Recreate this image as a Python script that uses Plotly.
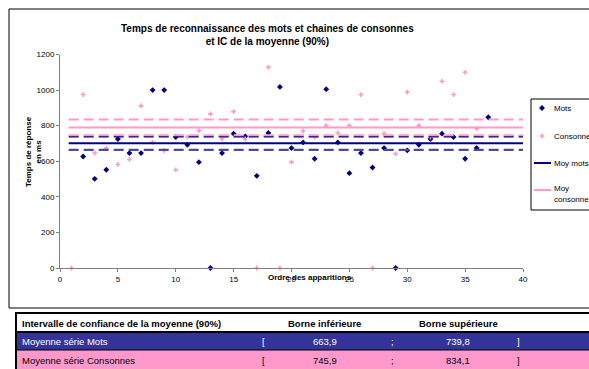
import plotly.graph_objects as go

W, H = 589, 369

# --- data -------------------------------------------------------------------
ordre = list(range(1, 38))
mots = [None, 627, 501, 552, 725, 646, 646, 1000, 1000, 736, 693, 595, 0, 646,
        755, 740, 518, 759, 1018, 674, 706, 614, 1005, 706, 533, 646, 565, 674,
        0, 661, 693, 725, 755, 736, 614, 674, 847]
consonnes = [0, 975, 646, 674, 582, 610, 911, 706, 659, 552, 736, 772, 866, 725,
             879, 725, 0, 1128, 0, 595, 770, 736, 800, 759, 800, 975, 0, 755,
             642, 988, 800, 736, 1050, 975, 1100, 783, None]

ic_mots = [663.9, 739.8]        # borne inférieure, borne supérieure
ic_consonnes = [745.9, 834.1]

x_ticks = [0, 5, 10, 15, 20, 25, 30, 35, 40]
y_ticks = [0, 200, 400, 600, 800, 1000, 1200]

NAVY = "#000080"
PINK = "#FF99CC"
FONT = "Liberation Sans"


def px(x):
    return x / W


def py(y):
    return 1 - y / H


def fmt(v):
    return f"{v:.1f}".replace(".", ",")


moy_mots = sum(ic_mots) / 2
moy_consonnes = sum(ic_consonnes) / 2
line_x = [0.75, 40]

fig = go.Figure()

# scatter series
fig.add_trace(go.Scatter(x=ordre, y=mots, mode="markers", name="Mots",
                         marker=dict(symbol="diamond", size=4.5, color=NAVY),
                         cliponaxis=False))
fig.add_trace(go.Scatter(x=ordre, y=consonnes, mode="markers", name="Consonnes",
                         marker=dict(symbol="cross", size=4, color=PINK),
                         cliponaxis=False))

# confidence bounds and means
fig.add_trace(go.Scatter(x=line_x, y=[ic_mots[0]] * 2, mode="lines",
                         line=dict(color="#4B4B9A", width=2.2, dash="10px,5px")))
fig.add_trace(go.Scatter(x=line_x, y=[ic_mots[1]] * 2, mode="lines",
                         line=dict(color=NAVY, width=2, dash="10px,5px")))
fig.add_trace(go.Scatter(x=line_x, y=[ic_consonnes[0]] * 2, mode="lines",
                         line=dict(color=PINK, width=2, dash="10px,5px")))
fig.add_trace(go.Scatter(x=line_x, y=[ic_consonnes[1]] * 2, mode="lines",
                         line=dict(color=PINK, width=2, dash="10px,5px")))
fig.add_trace(go.Scatter(x=line_x, y=[moy_mots] * 2, mode="lines",
                         line=dict(color=NAVY, width=2)))
fig.add_trace(go.Scatter(x=line_x, y=[moy_consonnes] * 2, mode="lines",
                         line=dict(color=PINK, width=2)))

# legend symbols, drawn on a page-sized pixel axis
fig.add_trace(go.Scatter(x=[542], y=[108], mode="markers", xaxis="x2", yaxis="y2",
                         marker=dict(symbol="diamond", size=4.5, color=NAVY),
                         cliponaxis=False))
fig.add_trace(go.Scatter(x=[542], y=[136], mode="markers", xaxis="x2", yaxis="y2",
                         marker=dict(symbol="cross", size=4, color=PINK),
                         cliponaxis=False))
fig.add_trace(go.Scatter(x=[534, 551], y=[163, 163], mode="lines", xaxis="x2", yaxis="y2",
                         line=dict(color=NAVY, width=2), cliponaxis=False))
fig.add_trace(go.Scatter(x=[534, 551], y=[190, 190], mode="lines", xaxis="x2", yaxis="y2",
                         line=dict(color=PINK, width=2), cliponaxis=False))

shapes = []
annotations = []

# chart frame
shapes.append(dict(type="rect", xref="paper", yref="paper",
                   x0=px(9), x1=px(640), y0=py(9), y1=py(308),
                   line=dict(color="#000000", width=1)))
# legend box
shapes.append(dict(type="rect", xref="paper", yref="paper",
                   x0=px(531), x1=px(640), y0=py(99), y1=py(210),
                   line=dict(color="#000000", width=1)))

legend_txt = [("Mots", 108), ("Consonnes", 136), ("Moy mots", 163),
              ("Moy", 188), ("consonnes", 199)]
for t, yy in legend_txt:
    annotations.append(dict(text=t, xref="paper", yref="paper", x=px(552), y=py(yy),
                            xanchor="left", yanchor="middle", showarrow=False,
                            font=dict(family=FONT, size=8, color="#000000")))

# title
annotations.append(dict(
    text="<b>Temps de reconnaissance des mots et chaines de consonnes</b><br>"
         "<b>et IC de la moyenne (90%)</b>",
    xref="paper", yref="paper", x=px(267.5), y=py(35), xanchor="center",
    yanchor="middle", showarrow=False, align="center",
    font=dict(family=FONT, size=10, color="#000000")))

# axis titles
annotations.append(dict(text="<b>Temps de réponse</b><br><b>en ms</b>",
                        xref="paper", yref="paper", x=px(33), y=py(152),
                        xanchor="center", yanchor="middle", textangle=-90,
                        showarrow=False, align="center",
                        font=dict(family=FONT, size=8, color="#000000")))
annotations.append(dict(text="<b>Ordre des apparitions</b>",
                        xref="paper", yref="paper", x=px(310), y=py(277),
                        xanchor="center", yanchor="middle", showarrow=False,
                        font=dict(family=FONT, size=8, color="#000000")))

# confidence-interval table
T_L, T_R = 16, 640
rows = [(313, 332, "#FFFFFF"), (332, 350, "#333399"), (350, 380, PINK)]
for y0, y1, c in rows:
    shapes.append(dict(type="rect", xref="paper", yref="paper",
                       x0=px(T_L), x1=px(T_R), y0=py(y0), y1=py(y1),
                       fillcolor=c, line=dict(width=0), layer="below"))
shapes.append(dict(type="rect", xref="paper", yref="paper",
                   x0=px(T_L), x1=px(T_R), y0=py(313), y1=py(380),
                   line=dict(color="#000000", width=2)))
shapes.append(dict(type="line", xref="paper", yref="paper",
                   x0=px(T_L), x1=px(T_R), y0=py(332), y1=py(332),
                   line=dict(color="#000000", width=2)))
shapes.append(dict(type="line", xref="paper", yref="paper",
                   x0=px(T_L), x1=px(T_R), y0=py(350), y1=py(350),
                   line=dict(color="#000000", width=1)))


def cell(text, x, y, anchor, color, bold=False):
    if bold:
        text = f"<b>{text}</b>"
    annotations.append(dict(text=text, xref="paper", yref="paper", x=px(x), y=py(y),
                            xanchor=anchor, yanchor="middle", showarrow=False,
                            font=dict(family=FONT, size=9.5, color=color)))


cell("Intervalle de confiance de la moyenne (90%)", 20, 323, "left", "#000000", True)
cell("Borne inférieure", 324, 323, "center", "#000000", True)
cell("Borne supérieure", 458, 323, "center", "#000000", True)

for label, ic, yy, col in [("Moyenne série Mots", ic_mots, 341, "#FFFFFF"),
                           ("Moyenne série Consonnes", ic_consonnes, 360, "#000000")]:
    cell(label, 20, yy, "left", col)
    cell("[", 263, yy, "center", col)
    cell(fmt(ic[0]), 325, yy, "center", col)
    cell(";", 392, yy, "center", col)
    cell(fmt(ic[1]), 458, yy, "center", col)
    cell("]", 518, yy, "center", col)

axis_common = dict(showgrid=False, zeroline=False, showline=True,
                   linecolor="#808080", linewidth=1, ticks="outside",
                   ticklen=3, tickcolor="#808080",
                   tickfont=dict(family=FONT, size=8, color="#000000"))

fig.update_layout(
    width=W, height=H,
    margin=dict(l=0, r=0, t=0, b=0, autoexpand=False),
    paper_bgcolor="#FFFFFF", plot_bgcolor="rgba(0,0,0,0)",
    showlegend=False,
    xaxis=dict(domain=[px(60), px(523)], range=[0, 40], tickvals=x_ticks,
               anchor="y", **axis_common),
    yaxis=dict(domain=[py(268), py(54.5)], range=[0, 1200], tickvals=y_ticks,
               anchor="x", **axis_common),
    xaxis2=dict(domain=[0, 1], range=[0, W], visible=False, anchor="y2"),
    yaxis2=dict(domain=[0, 1], range=[H, 0], visible=False, anchor="x2"),
    shapes=shapes,
    annotations=annotations,
)

fig.write_html("out.html")
